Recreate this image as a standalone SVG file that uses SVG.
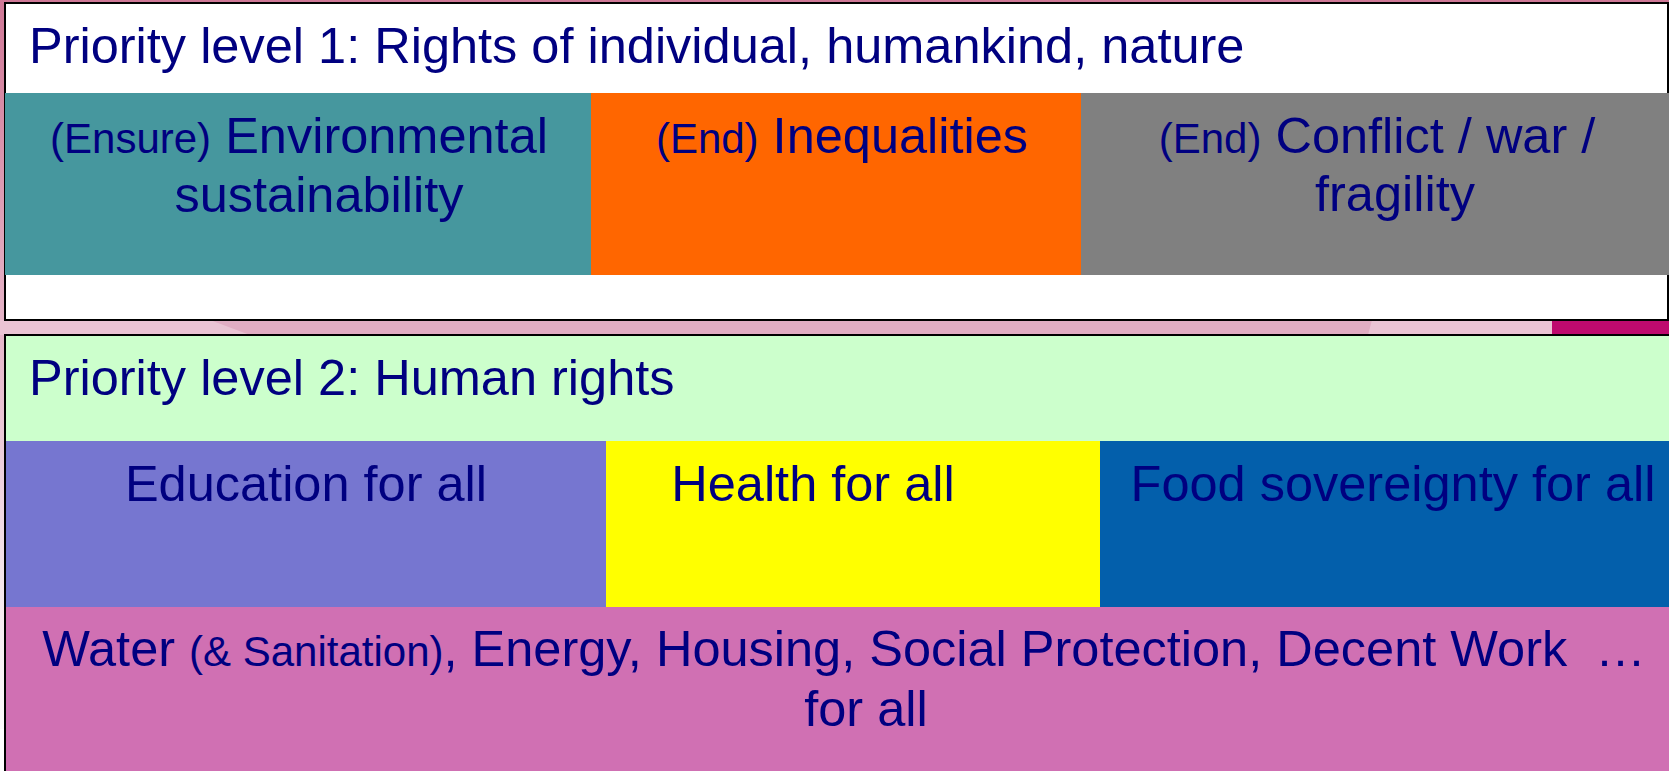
<svg xmlns="http://www.w3.org/2000/svg" width="1669" height="771" viewBox="0 0 1669 771">
<defs>
<linearGradient id="bgLeft" x1="0" y1="0" x2="0" y2="1">
<stop offset="0" stop-color="#CF7896"/>
<stop offset="0.45" stop-color="#E6B8CB"/>
<stop offset="0.8" stop-color="#F6ECF0"/>
<stop offset="1" stop-color="#FFFFFF"/>
</linearGradient>
<style>
.t{font-family:"Liberation Sans",Arial,sans-serif;fill:#000080;font-size:50.5px}
.s{font-size:42px}
.c{text-anchor:middle}
</style>
</defs>
<!-- background -->
<rect x="0" y="0" width="1669" height="771" fill="url(#bgLeft)"/>
<rect x="0" y="320" width="1669" height="15" fill="#E1ADC3"/>
<polygon points="0,320 210,320 250,335 0,335" fill="#EAC4D4"/>
<polygon points="1372,320 1552,320 1552,335 1368,335" fill="#EAC4D4"/>
<rect x="1552" y="320" width="117" height="15" fill="#BE0A6E"/>
<rect x="0" y="729" width="6" height="42" fill="#FFFFFF"/>

<g id="panel1">
<rect x="5" y="3" width="1663" height="317" fill="#FFFFFF" stroke="#000000" stroke-width="2"/>
<text class="t" x="29" y="63">Priority level 1: Rights of individual, humankind, nature</text>
</g>
<g id="env">
<rect x="5" y="93" width="586" height="182" fill="#46979E"/>
<text class="t c" x="299" y="153"><tspan class="s">(Ensure)</tspan> Environmental</text>
<text class="t c" x="319" y="212">sustainability</text>
</g>
<g id="ineq">
<rect x="591" y="93" width="490" height="182" fill="#FF6600"/>
<text class="t c" x="842" y="153"><tspan class="s">(End)</tspan> Inequalities</text>
</g>
<g id="conflict">
<rect x="1081" y="93" width="588" height="182" fill="#808080"/>
<text class="t c" x="1377" y="153"><tspan class="s">(End)</tspan> Conflict / war /</text>
<text class="t c" x="1395" y="211">fragility</text>
</g>

<g id="panel2">
<rect x="5" y="335" width="1670" height="450" fill="#CCFFCC" stroke="#000000" stroke-width="2"/>
<text class="t" x="29" y="395">Priority level 2: Human rights</text>
</g>
<g id="education">
<rect x="6" y="441" width="600" height="166" fill="#7676D0"/>
<text class="t c" x="306" y="501">Education for all</text>
</g>
<g id="health">
<rect x="606" y="441" width="494" height="166" fill="#FFFF00"/>
<text class="t c" x="813" y="501">Health for all</text>
</g>
<g id="food">
<rect x="1100" y="441" width="569" height="166" fill="#035FAB"/>
<text class="t c" x="1393" y="501">Food sovereignty for all</text>
</g>
<g id="other">
<rect x="6" y="607" width="1663" height="164" fill="#D070B3"/>
<text class="t c" x="844" y="666" style="white-space:pre">Water <tspan class="s">(&amp; Sanitation)</tspan>, Energy, Housing, Social Protection, Decent Work  …</text>
<text class="t c" x="866" y="726">for all</text>
</g>
<g id="connectors"/>
</svg>
